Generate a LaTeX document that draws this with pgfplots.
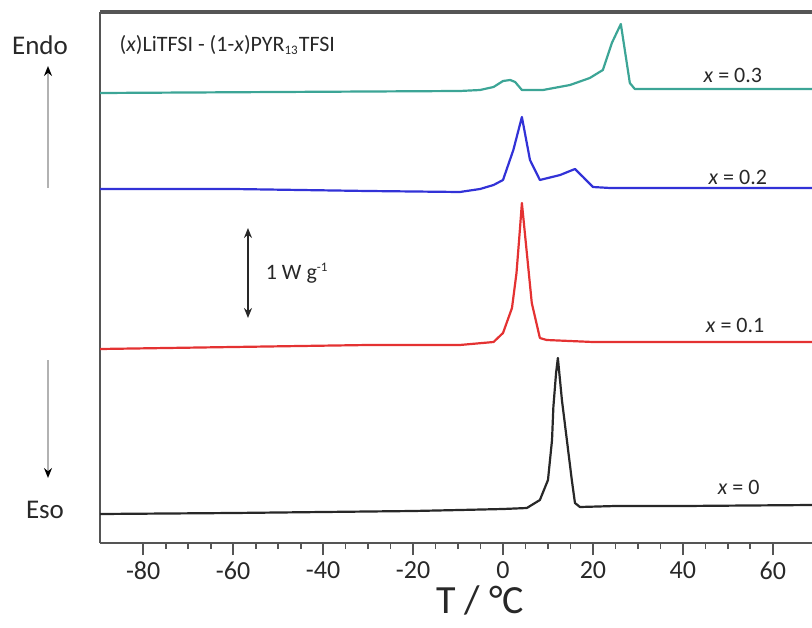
\documentclass[border=0pt]{standalone}
\usepackage{pgfplots}
\pgfplotsset{compat=1.18}
\usepackage{fontspec}
\setmainfont{Carlito}
\usetikzlibrary{arrows.meta}
\definecolor{cteal}{RGB}{60,165,150}
\definecolor{cblue}{RGB}{50,50,215}
\definecolor{cred}{RGB}{228,50,50}
\definecolor{cblack}{RGB}{40,40,40}
\definecolor{axgray}{RGB}{85,85,85}
\begin{document}
\begin{tikzpicture}
\begin{axis}[
  name=ax,
  scale only axis,
  width=356pt, height=265.5pt,
  xmin=-89.6, xmax=68.7, ymin=0, ymax=531,
  axis x line*=bottom, axis y line*=left,
  axis line style={-, draw=axgray, line width=1.2pt},
  xtick={-80,-60,...,60},
  minor x tick num=3,
  ytick=\empty,
  tick align=outside,
  major tick length=6pt, minor tick length=3pt,
  every tick/.style={axgray, line width=0.9pt},
  tick label style={font=\fontsize{13}{15}\selectfont, text=cblack},
  /pgf/number format/assume math mode=true,
  xlabel={T / °C},
  xlabel style={font=\fontsize{20}{22}\selectfont, text=cblack, xshift=12pt, yshift=4pt},
  every axis plot/.append style={line width=1.1pt, line join=round},
]
\addplot[cblack] coordinates {
(-89.6,29) (-60,30) (-40,31) (-20,32) (-9.6,33) (0,34) (5.3,35) (8.2,43) (10,63) (10.9,103) (11.2,136) (11.8,170) (12.2,185) (13.1,143) (14.2,103) (15.3,63) (16,40) (17.1,36) (25,37) (40,37) (68.7,38)
};
\addplot[cred] coordinates {
(-89.6,194) (-60,196) (-30,198) (-9.6,198) (-2.1,201) (0,210) (2.0,235) (3.0,270) (3.7,310) (4.2,340) (5.3,290) (6.4,240) (8.2,205) (9.7,203) (20,201) (68.7,201)
};
\addplot[cblue] coordinates {
(-89.6,354) (-60,354) (-30,352) (-9.6,351) (-5.1,354) (-2.1,358) (0,363) (2.3,393) (4.2,426) (6.0,383) (8.2,363) (12.7,368) (16,374) (17.8,366) (20,356) (23.8,355) (68.7,355)
};
\addplot[cteal] coordinates {
(-89.6,450) (-50,451) (-9.6,452) (-5.1,453) (-2.1,456) (0,462) (1.6,463) (2.7,461) (4.2,453) (8.9,453) (14.9,458) (19.3,465) (22.2,473) (24.2,500) (26.2,519) (28.2,460) (29.3,454) (68.7,454)
};
\node[font=\fontsize{11}{13}\selectfont, text=cblack] at (axis cs:51.1,468) {\textit{x} = 0.3};
\node[font=\fontsize{11}{13}\selectfont, text=cblack] at (axis cs:52.2,366) {\textit{x} = 0.2};
\node[font=\fontsize{11}{13}\selectfont, text=cblack] at (axis cs:51.6,218) {\textit{x} = 0.1};
\node[font=\fontsize{11}{13}\selectfont, text=cblack] at (axis cs:52.4,56) {\textit{x} = 0};
\node[font=\fontsize{11}{13}\selectfont, text=cblack, anchor=west] at (axis cs:-86.8,498) {(\textit{x})LiTFSI - (1-\textit{x})PYR\textsubscript{\fontsize{6.5}{7}\selectfont 13}TFSI};
\draw[{Stealth[length=5pt,width=4pt]}-{Stealth[length=5pt,width=4pt]}, line width=0.8pt, cblack] (axis cs:-56.7,225) -- (axis cs:-56.7,315);
\node[font=\fontsize{11}{13}\selectfont, text=cblack, anchor=west] at (axis cs:-54.3,270) {1 W g\textsuperscript{\fontsize{6.5}{7}\selectfont -1}};
\end{axis}
\draw[axgray, line width=1.6pt] (ax.north west) -- (ax.north east);
\draw[line width=0.8pt, color=gray!60, -{Stealth[length=5pt,width=4pt,black]}] ([shift={(-26pt,177.5pt)}]ax.south west) -- ([shift={(-26pt,238.5pt)}]ax.south west);
\draw[line width=0.8pt, color=gray!60, -{Stealth[length=5pt,width=4pt,black]}] ([shift={(-26pt,91.5pt)}]ax.south west) -- ([shift={(-26pt,32.5pt)}]ax.south west);
\node[font=\fontsize{13.5}{15}\selectfont, text=cblack] at ([shift={(-30pt,249pt)}]ax.south west) {Endo};
\node[font=\fontsize{13.5}{15}\selectfont, text=cblack] at ([shift={(-27.5pt,16.5pt)}]ax.south west) {Eso};
\pgfresetboundingbox
\useasboundingbox ([shift={(-50pt,-42pt)}]ax.south west) rectangle ([shift={(356pt,271.5pt)}]ax.south west);
\end{tikzpicture}
\end{document}
